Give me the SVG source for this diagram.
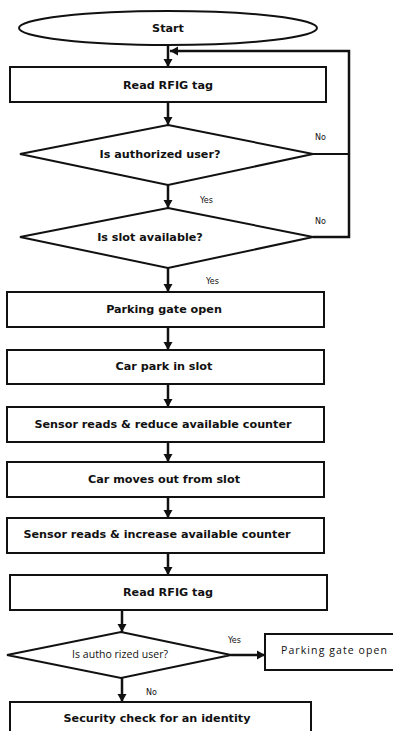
<svg xmlns="http://www.w3.org/2000/svg" width="393" height="731" viewBox="0 0 393 731">
<style>
.s{fill:#fff;stroke:#111;stroke-width:2}
.t{font-family:"DejaVu Sans",sans-serif;font-weight:bold;font-size:11.2px;fill:#111;text-anchor:middle}
.l{font-family:"DejaVu Sans",sans-serif;font-size:8px;fill:#111}
.n{font-family:"Open Sans","Liberation Sans",sans-serif;font-size:10.5px;fill:#111}
.c{fill:none;stroke:#111;stroke-width:2}
.a{fill:none;stroke:#111;stroke-width:2.5;marker-end:url(#ah)}
</style>
<defs>
<marker id="ah" markerUnits="userSpaceOnUse" markerWidth="10" markerHeight="10" refX="8" refY="5" orient="auto">
<path d="M0,0.5 L8,5 L0,9.5 Z" fill="#111"/>
</marker>
</defs>
<rect width="393" height="731" fill="#fff"/>
<g id="connectors">
<path class="a" d="M168,45 V67"/>
<path class="a" d="M168,102 V125"/>
<path class="a" d="M168,185 V208"/>
<path class="a" d="M168,268 V292"/>
<path class="a" d="M168,327 V350"/>
<path class="a" d="M168,384 V407"/>
<path class="a" d="M168,442 V462"/>
<path class="a" d="M168,497 V518"/>
<path class="a" d="M168,553 V575"/>
<path class="a" d="M122,610 V632"/>
<path class="a" d="M122,678 V702"/>
<path class="a" d="M231,655 H265"/>
<path class="c" d="M313,154 H349"/>
<path class="a" d="M313,237 H349 V51 H170"/>
<text class="l" x="315" y="140">No</text>
<text class="l" x="315" y="224">No</text>
<text class="l" x="200" y="203">Yes</text>
<text class="l" x="206" y="284">Yes</text>
<text class="l" x="228" y="643">Yes</text>
<text class="l" x="146" y="695">No</text>
</g>
<g id="start">
<ellipse class="s" cx="168" cy="28" rx="149" ry="17"/>
<text class="t" x="168" y="32">Start</text>
</g>
<g id="read1">
<rect class="s" x="10" y="67" width="316" height="35"/>
<text class="t" x="168" y="89">Read RFIG tag</text>
</g>
<g id="auth1">
<polygon class="s" points="168,125 313,154 168,185 20,154"/>
<text class="t" x="160" y="158">Is authorized user?</text>
</g>
<g id="slot">
<polygon class="s" points="168,208 313,237 168,268 20,237"/>
<text class="t" x="150" y="241">Is slot available?</text>
</g>
<g id="gate1">
<rect class="s" x="7" y="292" width="317" height="35"/>
<text class="t" x="164" y="313">Parking gate open</text>
</g>
<g id="park">
<rect class="s" x="7" y="350" width="317" height="34"/>
<text class="t" x="164" y="370">Car park in slot</text>
</g>
<g id="reduce">
<rect class="s" x="7" y="407" width="317" height="35"/>
<text class="t" x="163" y="428">Sensor reads &amp; reduce available counter</text>
</g>
<g id="moveout">
<rect class="s" x="7" y="462" width="317" height="35"/>
<text class="t" x="164" y="483">Car moves out from slot</text>
</g>
<g id="increase">
<rect class="s" x="7" y="518" width="317" height="35"/>
<text class="t" x="157" y="538">Sensor reads &amp; increase available counter</text>
</g>
<g id="read2">
<rect class="s" x="10" y="575" width="317" height="35"/>
<text class="t" x="168" y="596">Read RFIG tag</text>
</g>
<g id="auth2">
<polygon class="s" points="121,632 231,655 121,678 7,655"/>
<text class="n" x="72" y="658" textLength="96" lengthAdjust="spacing">Is autho rized user?</text>
</g>
<g id="gate2">
<rect class="s" x="265" y="634" width="138" height="36"/>
<text class="n" x="281" y="654" textLength="106" lengthAdjust="spacing">Parking gate open</text>
</g>
<g id="security">
<rect class="s" x="10" y="702" width="301" height="40"/>
<text class="t" x="157" y="722">Security check for an identity</text>
</g>
</svg>
